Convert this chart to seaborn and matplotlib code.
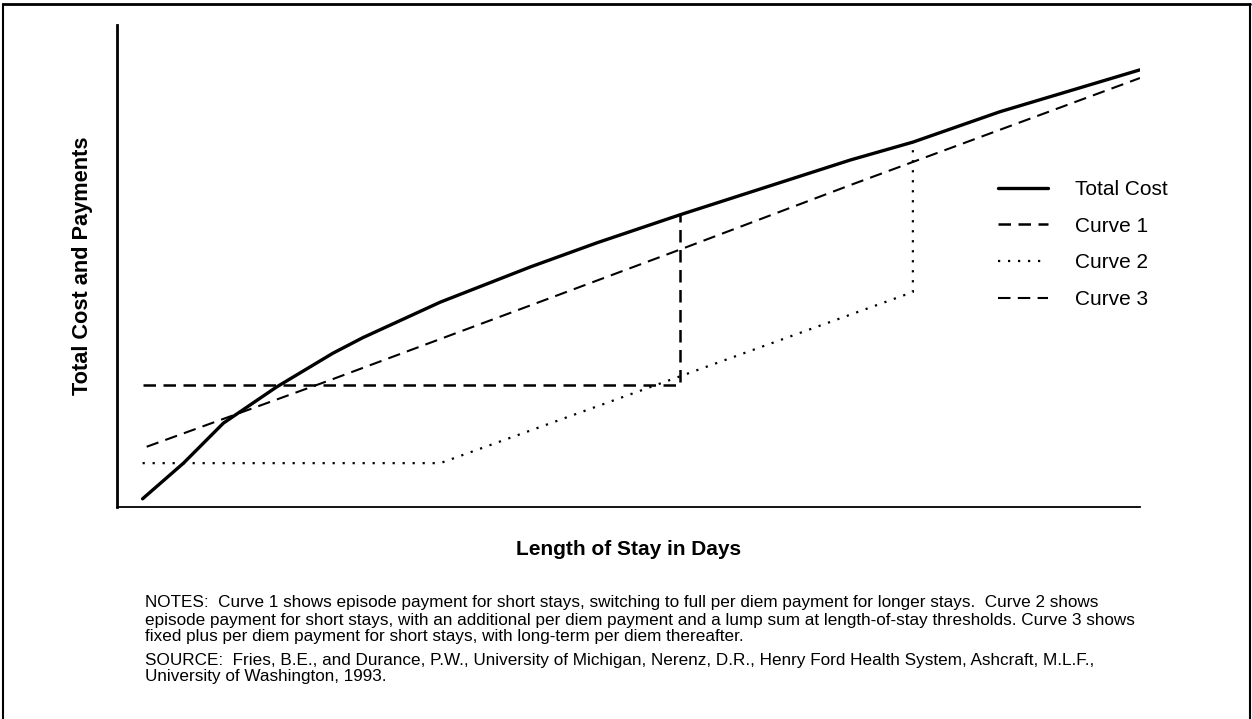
import matplotlib
matplotlib.use('Agg')
import matplotlib.pyplot as plt
import seaborn as sns
from matplotlib.lines import Line2D

# values (x: length of stay, y: cost/payment, both 0-100 of the axes)
days_total = [2.5, 6.5, 10.4, 15.6, 21.1, 24.0, 31.6, 40.4, 46.9, 55.0, 71.7, 77.8, 86.3, 100.0]
cost_total = [1.7, 9.1, 17.4, 24.9, 31.9, 35.1, 42.5, 49.8, 54.8, 60.6, 72.0, 75.7, 82.0, 90.7]

days_c1 = [2.5, 55.0, 55.0]
pay_c1 = [25.3, 25.3, 60.6]

days_c2 = [2.5, 31.6, 77.8, 77.8]
pay_c2 = [9.1, 9.1, 44.6, 74.5]

days_c3 = [2.9, 20.8, 54.9, 71.7, 100.0]
pay_c3 = [12.5, 26.3, 53.3, 66.8, 89.0]

series_names = ['Total Cost', 'Curve 1', 'Curve 2', 'Curve 3']

notes_lines = [
    'NOTES:  Curve 1 shows episode payment for short stays, switching to full per diem payment for longer stays.  Curve 2 shows',
    'episode payment for short stays, with an additional per diem payment and a lump sum at length-of-stay thresholds. Curve 3 shows',
    'fixed plus per diem payment for short stays, with long-term per diem thereafter.',
]
source_lines = [
    'SOURCE:  Fries, B.E., and Durance, P.W., University of Michigan, Nerenz, D.R., Henry Ford Health System, Ashcraft, M.L.F.,',
    'University of Washington, 1993.',
]

sns.set_theme(style='white')
plt.rcParams['font.family'] = ['Liberation Sans', 'DejaVu Sans']
plt.rcParams['text.color'] = 'black'
plt.rcParams['axes.labelcolor'] = 'black'

W, H = 1252, 719
fig = plt.figure(figsize=(W / 100, H / 100), dpi=100)
ax = fig.add_axes([117 / W, (H - 507) / H, 1023 / W, 482 / H])

sns.lineplot(x=days_c3, y=pay_c3, ax=ax, color='black', lw=1.5,
             linestyle=(0, (6, 3.5)), estimator=None, sort=False)
sns.lineplot(x=days_c2, y=pay_c2, ax=ax, color='black', lw=1.6,
             linestyle=(0, (1, 3.5)), estimator=None, sort=False)
sns.lineplot(x=days_c1, y=pay_c1, ax=ax, color='black', lw=1.8,
             linestyle=(0, (5, 3)), estimator=None, sort=False)
sns.lineplot(x=days_total, y=cost_total, ax=ax, color='black', lw=2.4,
             estimator=None, sort=False)

ax.set_xlim(0, 100)
ax.set_ylim(0, 100)
ax.set_xticks([])
ax.set_yticks([])
ax.spines['top'].set_visible(False)
ax.spines['right'].set_visible(False)
ax.spines['left'].set_linewidth(2.0)
ax.spines['bottom'].set_linewidth(1.3)
for s in ['left', 'bottom']:
    ax.spines[s].set_color('black')

ax.set_xlabel('Length of Stay in Days', fontsize=15, fontweight='bold', labelpad=24)
ax.set_ylabel('Total Cost and Payments', fontsize=15.7, fontweight='bold', labelpad=17)

lines = ax.get_lines()
handles = [lines[3], lines[2], lines[1], lines[0]]
ax.legend(handles, series_names, loc='center left',
          bbox_to_anchor=(998 / W, 1 - 244.5 / H), bbox_transform=fig.transFigure,
          frameon=False, fontsize=15, handlelength=2.4, handletextpad=1.3,
          labelspacing=0.85, borderpad=0, borderaxespad=0)

for txt, yy in zip(notes_lines, [603, 620, 637]):
    fig.text(145 / W, 1 - yy / H, txt, fontsize=12.3, va='center', ha='left')
for txt, yy in zip(source_lines, [660, 677]):
    fig.text(145 / W, 1 - yy / H, txt, fontsize=12.3, va='center', ha='left')

# page frame
fig.add_artist(Line2D([3 / W, 3 / W], [0, 1 - 4 / H], transform=fig.transFigure, color='black', lw=1.5))
fig.add_artist(Line2D([3 / W, 1250 / W], [1 - 4 / H, 1 - 4 / H], transform=fig.transFigure, color='black', lw=2))
fig.add_artist(Line2D([1250 / W, 1250 / W], [0, 1 - 4 / H], transform=fig.transFigure, color='black', lw=1.5))

fig.savefig('out.png', dpi=100)
